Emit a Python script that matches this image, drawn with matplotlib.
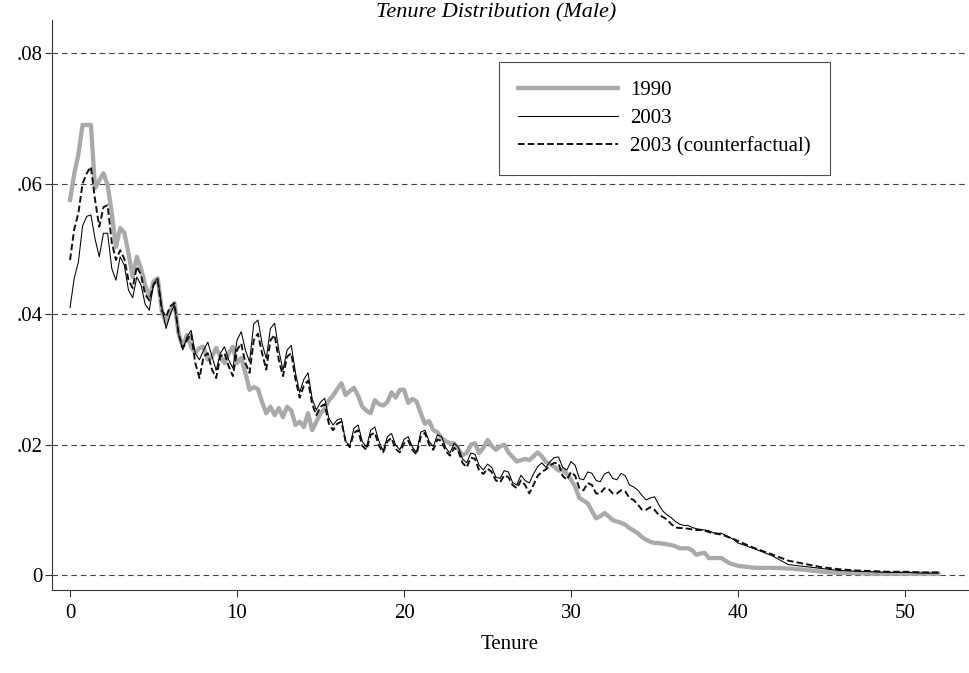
import numpy as np
import matplotlib
matplotlib.use("Agg")
import matplotlib.pyplot as plt

plt.rcParams['font.family'] = ['Liberation Serif', 'DejaVu Serif']

# tenure grid: quarterly up to 40, yearly after
tenure = np.concatenate([np.arange(0, 40, 0.25), np.arange(40, 53, 1.0)])

# one row per year (k, k+.25, k+.5, k+.75), last row = yearly tail 40..52
y1990 = [
    .0575, .0615, .0645, .0690,
    .0690, .0690, .0593, .0605,
    .0616, .0598, .0555, .0503,
    .0532, .0525, .0493, .0457,
    .0488, .0470, .0445, .0425,
    .0450, .0455, .0405, .0386,
    .0405, .0417, .0370, .0350,
    .0368, .0350, .0340, .0348,
    .0350, .0330, .0335, .0348,
    .0335, .0325, .0340, .0350,
    .0325, .0333, .0310, .0284,
    .0288, .0285, .0265, .0248,
    .0258, .0245, .0256, .0242,
    .0258, .0252, .0230, .0235,
    .0227, .0248, .0222, .0235,
    .0248, .0255, .0268, .0275,
    .0285, .0294, .0276, .0282,
    .0287, .0275, .0258, .0252,
    .0248, .0268, .0262, .0260,
    .0265, .0280, .0272, .0284,
    .0284, .0264, .0270, .0266,
    .0248, .0232, .0236, .0222,
    .0219, .0210, .0205, .0202,
    .0202, .0193, .0184, .0187,
    .0200, .0202, .0187, .0195,
    .0207, .0198, .0192, .0197,
    .0200, .0188, .0181, .0174,
    .0176, .0178, .0176, .0182,
    .0188, .0182, .0173, .0170,
    .0166, .0160, .0162, .0155,
    .0146, .0135, .0118, .0114,
    .0110, .0098, .0087, .0090,
    .0095, .0090, .0084, .0082,
    .0080, .0077, .0072, .0068,
    .0064, .0058, .0054, .0051,
    .0049, .0049, .0048, .0047,
    .0046, .0044, .0041, .0041,
    .0041, .0038, .0031, .0033,
    .0034, .0026, .0026, .0026,
    .0026, .0022, .0018, .0016,
    .0014, .0011, .0011, .0010, .0008, .0005, .0003, .0003, .0002, .0002, .0002, .0002, .0002,
]

y2003 = [
    .0410, .0455, .0480, .0535,
    .0550, .0552, .0515, .0488,
    .0524, .0524, .0470, .0452,
    .0488, .0475, .0437, .0425,
    .0457, .0445, .0415, .0406,
    .0447, .0455, .0410, .0378,
    .0400, .0414, .0370, .0345,
    .0365, .0375, .0340, .0330,
    .0345, .0357, .0335, .0314,
    .0340, .0350, .0330, .0317,
    .0360, .0373, .0345, .0327,
    .0385, .0391, .0355, .0332,
    .0378, .0386, .0345, .0314,
    .0345, .0352, .0310, .0280,
    .0300, .0310, .0270, .0253,
    .0265, .0271, .0240, .0230,
    .0238, .0240, .0205, .0198,
    .0225, .0230, .0205, .0196,
    .0222, .0227, .0205, .0190,
    .0212, .0217, .0199, .0192,
    .0208, .0212, .0196, .0188,
    .0219, .0222, .0205, .0197,
    .0215, .0212, .0195, .0187,
    .0202, .0196, .0178, .0172,
    .0187, .0185, .0168, .0161,
    .0170, .0165, .0150, .0148,
    .0160, .0158, .0142, .0138,
    .0153, .0145, .0141, .0155,
    .0166, .0172, .0165, .0174,
    .0180, .0181, .0165, .0161,
    .0174, .0168, .0148, .0146,
    .0158, .0156, .0145, .0143,
    .0155, .0158, .0148, .0146,
    .0156, .0152, .0138, .0135,
    .0130, .0122, .0115, .0118,
    .0120, .0108, .0098, .0092,
    .0088, .0082, .0078, .0076,
    .0076, .0073, .0071, .0070,
    .0069, .0068, .0065, .0064,
    .0064, .0061, .0058, .0054,
    .0049, .0040, .0030, .0016, .0013, .0010, .0007, .0006, .0005, .0004, .0004, .0003, .0003,
]

y2003_cf = [
    .0483, .0530, .0555, .0600,
    .0616, .0626, .0575, .0534,
    .0564, .0567, .0510, .0483,
    .0498, .0485, .0452, .0440,
    .0473, .0460, .0430, .0421,
    .0445, .0452, .0405, .0396,
    .0412, .0417, .0370, .0348,
    .0360, .0370, .0325, .0302,
    .0335, .0340, .0315, .0302,
    .0335, .0340, .0320, .0305,
    .0345, .0355, .0325, .0310,
    .0360, .0370, .0340, .0315,
    .0360, .0368, .0330, .0305,
    .0335, .0340, .0300, .0272,
    .0290, .0298, .0262, .0245,
    .0258, .0262, .0232, .0222,
    .0232, .0235, .0205, .0196,
    .0218, .0222, .0198, .0192,
    .0215, .0218, .0198, .0188,
    .0205, .0210, .0193, .0188,
    .0202, .0206, .0192, .0185,
    .0212, .0218, .0200, .0192,
    .0208, .0205, .0190, .0183,
    .0195, .0190, .0172, .0165,
    .0180, .0178, .0160, .0155,
    .0163, .0158, .0145, .0142,
    .0153, .0150, .0138, .0133,
    .0145, .0138, .0125, .0138,
    .0152, .0158, .0162, .0168,
    .0172, .0171, .0152, .0146,
    .0158, .0152, .0133, .0130,
    .0141, .0138, .0125, .0125,
    .0133, .0132, .0125, .0125,
    .0130, .0128, .0118, .0115,
    .0108, .0100, .0100, .0104,
    .0100, .0092, .0089, .0085,
    .0078, .0073, .0072, .0072,
    .0071, .0070, .0069, .0069,
    .0068, .0066, .0064, .0063,
    .0062, .0060, .0057, .0055,
    .0052, .0041, .0032, .0022, .0017, .0012, .0009, .0007, .0006, .0005, .0005, .0004, .0004,
]

yticks = [0, .02, .04, .06, .08]
ytick_labels = ['0', '.02', '.04', '.06', '.08']
xticks = [0, 10, 20, 30, 40, 50]

fig = plt.figure(figsize=(9.7, 6.73), dpi=100)
ax = fig.add_axes([52 / 970, 1 - 590 / 673, (968 - 52) / 970, (590 - 20) / 673])

for yv in yticks:
    ax.axhline(yv, color='#444444', lw=0.8, ls=(0, (5, 3.5)), zorder=1)

ax.plot(tenure, y1990, color='#aaaaaa', lw=3.1, label='1990', zorder=2)
ax.plot(tenure, y2003, color='black', lw=0.75, label='2003', zorder=3)
ax.plot(tenure, y2003_cf, color='#111111', lw=1.4, dashes=(3.4, 1.6),
        label='2003 (counterfactual)', zorder=4)

ax.set_xlim(-1.08, 53.77)
ax.set_ylim(-0.0023, 0.0851)
ax.set_yticks(yticks)
ax.set_yticklabels(ytick_labels)
ax.set_xticks(xticks)
ax.tick_params(axis='both', labelsize=15, direction='out', length=5, width=0.8, color='#333333')
ax.tick_params(axis='y', pad=2)
ax.tick_params(axis='x', pad=5)
for s in ['top', 'right']:
    ax.spines[s].set_visible(False)
for s in ['left', 'bottom']:
    ax.spines[s].set_linewidth(0.8)
    ax.spines[s].set_color('#333333')

ax.set_xlabel('Tenure', fontsize=15, labelpad=9)
fig.text(496 / 970, 1 - 13 / 673, 'Tenure Distribution (Male)', fontsize=16,
         style='italic', ha='center', va='center')

leg = ax.legend(loc='upper left', bbox_to_anchor=(499 / 970, 1 - 62 / 673),
                bbox_transform=fig.transFigure, fontsize=15, frameon=True,
                fancybox=False, handlelength=4.8, handletextpad=0.6,
                labelspacing=0.4, borderpad=0.9, borderaxespad=0)
leg.get_frame().set_edgecolor('#222222')
leg.get_frame().set_linewidth(0.8)

fig.savefig('out.png', dpi=100)
